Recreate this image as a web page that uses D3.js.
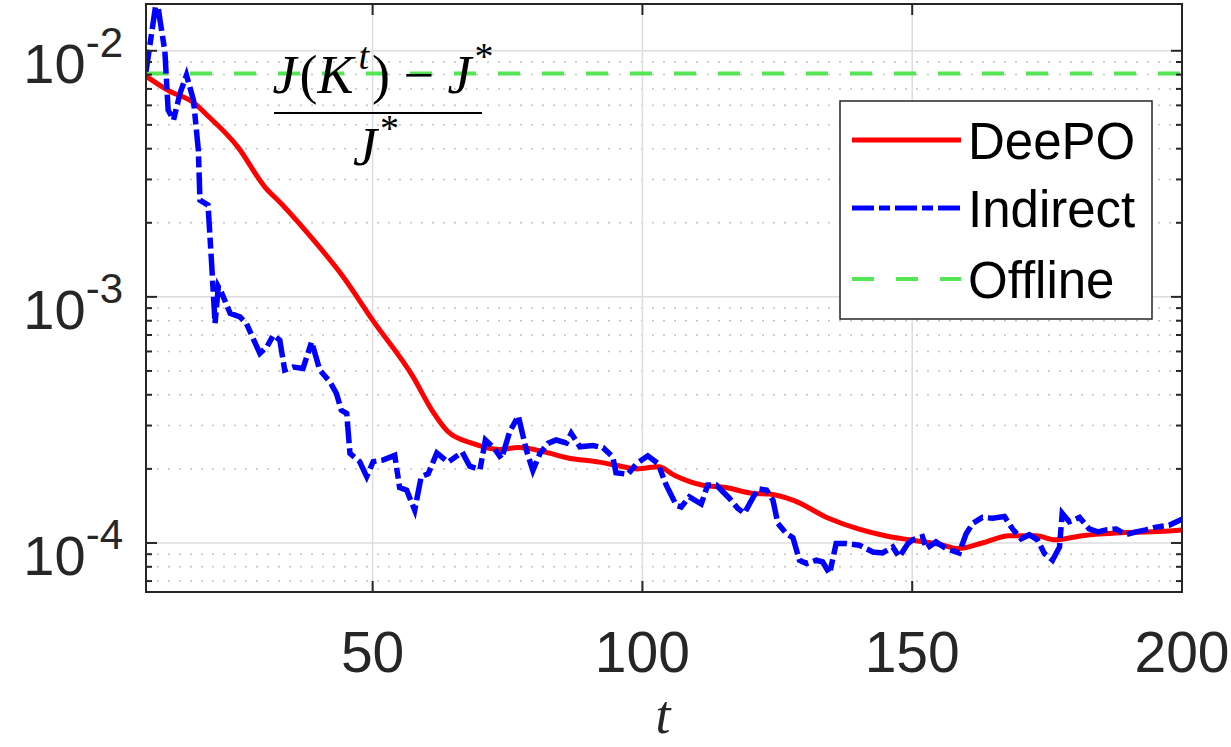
<!DOCTYPE html>
<html>
<head>
<meta charset="utf-8">
<script src="https://cdn.jsdelivr.net/npm/d3@7"></script>
<style>
  body { margin: 0; background: #fff; }
  svg { display: block; }
</style>
</head>
<body>
<div id="chart"></div>
<script>
// values (t, relative cost gap)
var tDeePO = [8, 12, 17, 19, 25, 30, 33, 38, 44.5, 50, 57.5, 61, 64, 68.5, 73.5, 77, 82, 86, 92, 96, 99,
  103, 106, 111, 115.5, 120.5, 123.5, 128, 134.5, 140, 145, 149.5, 155, 158.5, 163, 168, 173, 176.5,
  181.5, 188.5, 194.5, 200];
var vDeePO = [7.89e-3, 6.92e-3, 6.11e-3, 5.56e-3, 4.07e-3, 2.80e-3, 2.40e-3, 1.81e-3, 1.21e-3, 8.04e-4,
  4.73e-4, 3.46e-4, 2.83e-4, 2.54e-4, 2.40e-4, 2.44e-4, 2.34e-4, 2.22e-4, 2.13e-4, 2.05e-4, 2.00e-4,
  2.04e-4, 1.88e-4, 1.72e-4, 1.68e-4, 1.59e-4, 1.58e-4, 1.49e-4, 1.26e-4, 1.14e-4, 1.07e-4, 1.03e-4,
  9.88e-5, 9.49e-5, 1.00e-4, 1.07e-4, 1.07e-4, 1.03e-4, 1.07e-4, 1.10e-4, 1.11e-4, 1.13e-4];

var tIndirect = [8, 10, 10.6, 11.5, 12.1, 13.1, 14.3, 15.5, 16.8, 17.7, 18, 19.5, 20.2, 20.8, 21.4, 22,
  23.6, 25.4, 26.6, 29.1, 30.4, 31.6, 32.8, 33.7, 35.3, 37.1, 38.7, 40.2, 42.1, 43.3, 44.2, 45.2, 45.8,
  47.6, 48.9, 50.1, 51.9, 54.1, 55, 56.3, 57.8, 59, 60.3, 61.9, 64, 66.6, 68, 69.9, 70.9, 72.5, 73.9,
  75.4, 77, 78.5, 79.7, 81, 82.5, 84, 85.9, 86.8, 88.4, 90.8, 92.7, 94.5, 95.1, 97.3, 98.9, 101, 102.9,
  104.4, 106.3, 107.2, 108.7, 110.9, 112.1, 113.7, 116.1, 117.7, 118.9, 120.2, 121.4, 123, 124.2, 125.1,
  126.7, 127.9, 129.1, 130.4, 132.2, 133.4, 134.7, 135.9, 137.7, 140.2, 142.7, 144.5, 146.4, 147.6,
  149.2, 150.1, 151.9, 152.6, 154.4, 156.3, 158.7, 160, 161.2, 163, 164.9, 167.1, 168.6, 170.2, 171.7,
  173.2, 174.5, 176, 177.3, 177.8, 179.1, 181, 182.8, 184.4, 185.9, 187.8, 189.6, 191.5, 193.3, 195.2,
  197.6, 200];
var vIndirect = [8.22e-3, 1.64e-2, 1.33e-2, 9.94e-3, 5.74e-3, 5.23e-3, 6.71e-3, 7.96e-3, 6.30e-3, 3.95e-3,
  2.47e-3, 2.36e-3, 1.32e-3, 7.80e-4, 1.10e-3, 1.04e-3, 8.58e-4, 8.29e-4, 7.80e-4, 5.89e-4, 6.26e-4,
  6.99e-4, 6.67e-4, 5.04e-4, 5.19e-4, 5.12e-4, 6.57e-4, 5.04e-4, 4.51e-4, 4.05e-4, 3.46e-4, 3.36e-4,
  2.31e-4, 2.14e-4, 1.86e-4, 2.14e-4, 2.17e-4, 2.27e-4, 1.68e-4, 1.64e-4, 1.36e-4, 1.86e-4, 1.91e-4,
  2.32e-4, 2.13e-4, 2.34e-4, 2.05e-4, 1.99e-4, 2.62e-4, 2.43e-4, 2.20e-4, 2.83e-4, 3.28e-4, 2.38e-4,
  1.97e-4, 2.31e-4, 2.54e-4, 2.62e-4, 2.55e-4, 2.79e-4, 2.46e-4, 2.49e-4, 2.44e-4, 2.24e-4, 1.93e-4,
  1.90e-4, 2.10e-4, 2.26e-4, 2.10e-4, 1.72e-4, 1.42e-4, 1.40e-4, 1.54e-4, 1.44e-4, 1.72e-4, 1.72e-4,
  1.52e-4, 1.38e-4, 1.32e-4, 1.49e-4, 1.66e-4, 1.64e-4, 1.49e-4, 1.20e-4, 1.09e-4, 1.05e-4, 8.51e-5,
  8.25e-5, 8.51e-5, 8.37e-5, 7.51e-5, 9.94e-5, 9.94e-5, 9.79e-5, 9.19e-5, 9.11e-5, 9.63e-5, 8.77e-5,
  9.94e-5, 1.03e-4, 1.06e-4, 9.49e-5, 1.01e-4, 9.49e-5, 9.11e-5, 1.09e-4, 1.20e-4, 1.27e-4, 1.26e-4,
  1.28e-4, 1.14e-4, 1.04e-4, 1.08e-4, 1.03e-4, 9.06e-5, 8.51e-5, 9.63e-5, 1.32e-4, 1.22e-4, 1.27e-4,
  1.14e-4, 1.11e-4, 1.13e-4, 1.14e-4, 1.08e-4, 1.11e-4, 1.13e-4, 1.16e-4, 1.18e-4, 1.25e-4];

var offlineValue = 8.09e-3;

var xTicks = [50, 100, 150, 200];
var yTicks = [1e-4, 1e-3, 1e-2];
var yTickExp = ["-4", "-3", "-2"];
var legendNames = ["DeePO", "Indirect", "Offline"];

var width = 1231, height = 747;
var mLeft = 146, mRight = 1182, mTop = 4, mBottom = 592;
var axisColor = "#262626";

var svg = d3.select("#chart").append("svg")
  .attr("width", width)
  .attr("height", height)
  .style("font-family", "'Liberation Sans', Arial, sans-serif");

var x = d3.scaleLinear().domain([8, 200]).range([mLeft, mRight]);
var y = d3.scaleLog().domain([6.32e-5, 1.549e-2]).range([mBottom, mTop]);

// minor values for log grid
var minorVals = [];
[-5, -4, -3, -2].forEach(function (e) {
  for (var k = 2; k <= 9; k++) {
    var v = k * Math.pow(10, e);
    if (v > y.domain()[0] && v < y.domain()[1]) minorVals.push(v);
  }
});

var grid = svg.append("g");
grid.selectAll(".minor")
  .data(minorVals)
  .enter()
  .append("line")
  .attr("x1", mLeft).attr("x2", mRight)
  .attr("y1", function (d) { return y(d); })
  .attr("y2", function (d) { return y(d); })
  .attr("stroke", "#c4c4c4")
  .attr("stroke-width", 1.5)
  .attr("stroke-dasharray", "2,9");
grid.selectAll(".majory")
  .data(yTicks)
  .enter()
  .append("line")
  .attr("x1", mLeft).attr("x2", mRight)
  .attr("y1", function (d) { return y(d); })
  .attr("y2", function (d) { return y(d); })
  .attr("stroke", "#dcdcdc")
  .attr("stroke-width", 1.5);
grid.selectAll(".majorx")
  .data(xTicks.slice(0, 3))
  .enter()
  .append("line")
  .attr("y1", mTop).attr("y2", mBottom)
  .attr("x1", function (d) { return x(d); })
  .attr("x2", function (d) { return x(d); })
  .attr("stroke", "#dcdcdc")
  .attr("stroke-width", 1.5);

// clip
svg.append("clipPath").attr("id", "clip")
  .append("rect").attr("x", mLeft).attr("y", mTop)
  .attr("width", mRight - mLeft).attr("height", mBottom - mTop);

var plot = svg.append("g").attr("clip-path", "url(#clip)");

var line = d3.line()
  .x(function (d) { return x(d[0]); })
  .y(function (d) { return y(d[1]); });

// offline reference
plot.append("line")
  .attr("x1", x(8)).attr("x2", x(200))
  .attr("y1", y(offlineValue)).attr("y2", y(offlineValue))
  .attr("stroke", "#55e655")
  .attr("stroke-width", 4)
  .attr("stroke-dasharray", "22,22");

plot.append("path")
  .datum(d3.zip(tDeePO, vDeePO))
  .attr("fill", "none")
  .attr("stroke", "#ff0000")
  .attr("stroke-width", 5)
  .attr("d", line.curve(d3.curveMonotoneX));

plot.append("path")
  .datum(d3.zip(tIndirect, vIndirect))
  .attr("fill", "none")
  .attr("stroke", "#0000ff")
  .attr("stroke-width", 5.5)
  .attr("stroke-dasharray", "22,5,11,5")
  .attr("d", line.curve(d3.curveLinear));

// axes box + ticks
var axes = svg.append("g").attr("stroke", axisColor).attr("stroke-width", 2);
axes.append("rect")
  .attr("x", mLeft).attr("y", mTop)
  .attr("width", mRight - mLeft).attr("height", mBottom - mTop)
  .attr("fill", "none");

xTicks.slice(0, 3).forEach(function (t) {
  axes.append("line").attr("x1", x(t)).attr("x2", x(t)).attr("y1", mBottom).attr("y2", mBottom - 11);
  axes.append("line").attr("x1", x(t)).attr("x2", x(t)).attr("y1", mTop).attr("y2", mTop + 11);
});
yTicks.forEach(function (v) {
  axes.append("line").attr("x1", mLeft).attr("x2", mLeft + 11).attr("y1", y(v)).attr("y2", y(v));
  axes.append("line").attr("x1", mRight).attr("x2", mRight - 11).attr("y1", y(v)).attr("y2", y(v));
});
minorVals.forEach(function (v) {
  axes.append("line").attr("x1", mLeft).attr("x2", mLeft + 6).attr("y1", y(v)).attr("y2", y(v));
  axes.append("line").attr("x1", mRight).attr("x2", mRight - 6).attr("y1", y(v)).attr("y2", y(v));
});

// tick labels
svg.selectAll(".xlab")
  .data(xTicks)
  .enter()
  .append("text")
  .attr("x", function (d) { return x(d); })
  .attr("y", 672)
  .attr("text-anchor", "middle")
  .attr("font-size", 57)
  .attr("fill", axisColor)
  .text(function (d) { return d; });

yTicks.forEach(function (v, i) {
  var t = svg.append("text")
    .attr("x", 123)
    .attr("y", y(v) + 32)
    .attr("text-anchor", "end")
    .attr("fill", axisColor);
  t.append("tspan").attr("font-size", 56).text("10");
  t.append("tspan").attr("font-size", 42).attr("dy", -26).text(yTickExp[i]);
});

// axis label
svg.append("text")
  .attr("x", 663)
  .attr("y", 733)
  .attr("text-anchor", "middle")
  .attr("font-family", "'Liberation Serif', serif")
  .attr("font-style", "italic")
  .attr("font-size", 54)
  .attr("fill", axisColor)
  .text("t");

// fraction annotation
var ff = "'Liberation Serif', 'DejaVu Serif', serif";
var num = svg.append("text")
  .attr("x", 383).attr("y", 93)
  .attr("text-anchor", "middle")
  .attr("font-family", ff)
  .attr("font-size", 54)
  .attr("fill", "#000");
num.append("tspan").attr("font-style", "italic").text("J");
num.append("tspan").attr("dx", 3).text("(");
num.append("tspan").attr("font-style", "italic").text("K");
num.append("tspan").attr("font-style", "italic").attr("font-size", 38).attr("dx", 5).attr("dy", -24).text("t");
num.append("tspan").attr("dx", 3).attr("dy", 24).text(") \u2212 ");
num.append("tspan").attr("font-style", "italic").text("J");
num.append("tspan").attr("font-size", 38).attr("dx", 3).attr("dy", -24).text("*");

svg.append("line")
  .attr("x1", 274).attr("x2", 482)
  .attr("y1", 113).attr("y2", 113)
  .attr("stroke", "#000").attr("stroke-width", 2);

var den = svg.append("text")
  .attr("x", 376).attr("y", 165)
  .attr("text-anchor", "middle")
  .attr("font-family", ff)
  .attr("font-size", 54)
  .attr("fill", "#000");
den.append("tspan").attr("font-style", "italic").text("J");
den.append("tspan").attr("font-size", 38).attr("dx", 3).attr("dy", -24).text("*");

// legend
var legend = svg.append("g");
legend.append("rect")
  .attr("x", 840).attr("y", 101)
  .attr("width", 312).attr("height", 218)
  .attr("fill", "#fff")
  .attr("stroke", axisColor)
  .attr("stroke-width", 1.5);

var legendStyles = [
  { color: "#ff0000", dash: null, w: 5 },
  { color: "#0000ff", dash: "22,5,11,5", w: 5 },
  { color: "#55e655", dash: "22,22", w: 4 }
];
var legendY = [140, 208, 279];

legendNames.forEach(function (name, i) {
  legend.append("line")
    .attr("x1", 852).attr("x2", 961)
    .attr("y1", legendY[i]).attr("y2", legendY[i])
    .attr("stroke", legendStyles[i].color)
    .attr("stroke-width", legendStyles[i].w)
    .attr("stroke-dasharray", legendStyles[i].dash);
  legend.append("text")
    .attr("x", 968)
    .attr("y", legendY[i] + 19)
    .attr("font-size", 51)
    .attr("fill", "#000")
    .text(name);
});
</script>
</body>
</html>
